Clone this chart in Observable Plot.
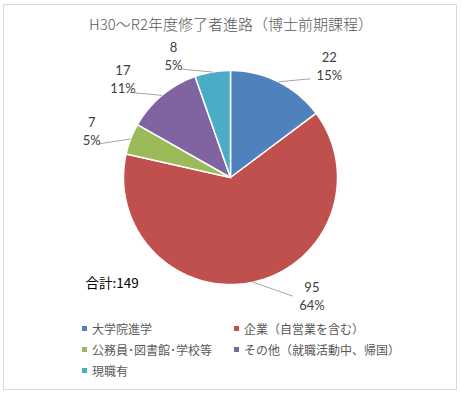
<!DOCTYPE html>
<html>
<head>
<meta charset="utf-8">
<script src="https://cdn.jsdelivr.net/npm/d3@7"></script>
<script src="https://cdn.jsdelivr.net/npm/@observablehq/plot@0.6"></script>
<style>
  html, body { margin: 0; padding: 0; background: #fff; }
  #wrap { position: relative; width: 462px; height: 393px; overflow: hidden; background: #fff; }
  #frame { position: absolute; left: 3px; top: 4px; width: 452px; height: 384px; border: 1px solid #D9D9D9; }
  #title { position: absolute; left: 0; top: 13px; width: 462px; text-align: center;
           font-family: "Noto Sans CJK JP", sans-serif; font-size: 15px; line-height: 22px; color: #595959; font-weight: 300; }
  #chart { position: absolute; left: 0; top: 38px; }
  #legend { position: absolute; left: 82px; top: 318px; display: grid;
            grid-template-columns: 152px auto; grid-auto-rows: 21px;
            font-family: "Noto Sans CJK JP", sans-serif; font-size: 12px; color: #595959; }
  .item { display: flex; align-items: center; white-space: nowrap; }
  .sw { width: 5px; height: 5px; margin-right: 5px; flex: none; }
</style>
</head>
<body>
<div id="wrap">
  <div id="frame"></div>
  <div id="title">H30～R2年度修了者進路（博士前期課程）</div>
  <div id="chart"></div>
  <div id="legend"></div>
</div>
<script>
const categories = ["大学院進学", "企業（自営業を含む）", "公務員･図書館･学校等", "その他（就職活動中、帰国）", "現職有"];
const values = [22, 95, 7, 17, 8];
const colors = ["#4F81BD", "#C0504D", "#9BBB59", "#8064A2", "#4BACC6"];
const totalLabel = "合計:";

const total = d3.sum(values);
const W = 462, H = 278, R = 107, CX = 230, CY = 139;

const arcs = d3.pie().sort(null).value(d => d)(values);

// slice polygons in unit-circle coordinates (angle 0 at 12 o'clock, clockwise)
const poly = [];
arcs.forEach((a, i) => {
  const cat = categories[i];
  poly.push({cat, x: 0, y: 0});
  const n = Math.max(2, Math.ceil((a.endAngle - a.startAngle) / (Math.PI / 180)));
  for (let k = 0; k <= n; k++) {
    const t = a.startAngle + (a.endAngle - a.startAngle) * k / n;
    poly.push({cat, x: Math.sin(t), y: Math.cos(t)});
  }
  poly.push({cat, x: 0, y: 0});
});

// data labels with leader lines
const labels = arcs.map((a, i) => {
  const mid = (a.startAngle + a.endAngle) / 2;
  const px = Math.sin(mid), py = Math.cos(mid);
  const sign = px >= 0 ? 1 : -1;
  const upper = py > 0;
  const ldx = (upper ? 32 : 40) * sign;
  const ldy = upper ? (py > 0.5 ? 3 : -5) : -14;
  const ex = px + ldx / R, ey = py + ldy / R;
  const tx = ex + (sign > 0 ? 19 : -7) / R;
  const ty = ey + (upper ? 14 : 1) / R;
  const pct = Math.round(values[i] / total * 100);
  return {x1: px, y1: py, x2: ex, y2: ey, tx, ty, text: `${values[i]}\n${pct}%`};
});

const chart = Plot.plot({
  width: W, height: H,
  marginTop: 0, marginRight: 0, marginBottom: 0, marginLeft: 0,
  x: {domain: [-CX / R, (W - CX) / R], axis: null},
  y: {domain: [-(H - CY) / R, CY / R], axis: null},
  color: {domain: categories, range: colors},
  style: {background: "transparent", overflow: "visible"},
  marks: [
    Plot.line(poly, {x: "x", y: "y", z: "cat", fill: "cat", stroke: "#fff", strokeWidth: 1.5, strokeLinejoin: "miter"}),
    Plot.link(labels, {x1: "x1", y1: "y1", x2: "x2", y2: "y2", stroke: "#A6A6A6", strokeWidth: 1}),
    Plot.text(labels, {x: "tx", y: "ty", text: "text", fill: "#404040", fontSize: 13,
      fontFamily: "Lato, 'Noto Sans', sans-serif", lineHeight: 1.4, lineAnchor: "middle", textAnchor: "middle"}),
    Plot.text([`${totalLabel}${total}`], {frameAnchor: "top-left", dx: 85, dy: 245, textAnchor: "start",
      lineAnchor: "middle", fill: "#000", fontSize: 13.5, fontFamily: "'Noto Sans CJK JP', sans-serif"})
  ]
});
document.getElementById("chart").appendChild(chart);

const legend = document.getElementById("legend");
categories.forEach((c, i) => {
  const it = document.createElement("div");
  it.className = "item";
  const sw = document.createElement("span");
  sw.className = "sw";
  sw.style.background = colors[i];
  it.appendChild(sw);
  it.appendChild(document.createTextNode(c));
  legend.appendChild(it);
});
</script>
</body>
</html>
